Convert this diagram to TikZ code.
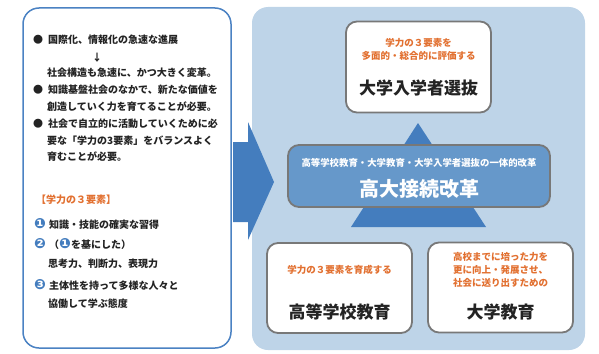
\documentclass[tikz,border=0pt]{standalone}
\usepackage{fontspec}
\setmainfont{Noto Sans CJK JP}
\newfontfamily\dejavu{DejaVu Sans}
\usetikzlibrary{positioning}
\definecolor{lb}{RGB}{75,130,195}
\definecolor{pn}{RGB}{190,212,232}
\definecolor{ar}{RGB}{68,125,190}
\definecolor{cb}{RGB}{102,152,202}
\definecolor{gb}{RGB}{120,120,120}
\definecolor{og}{RGB}{226,112,48}
\definecolor{tx}{RGB}{35,35,35}
\newcommand{\numc}[1]{\raisebox{-0.8pt}{\dejavu\fontsize{14}{12}\selectfont\textcolor{ar}{#1}}}
\newcommand{\bul}[1]{\makebox[15pt][l]{#1}}

\begin{document}
\begin{tikzpicture}[x=1pt,y=-1pt,
    txt/.style={anchor=west,inner sep=0pt,text=tx,font=\bfseries\fontsize{10}{12}\selectfont},
    box/.style={draw=gb,line width=1.8pt,fill=white,rounded corners=11pt,minimum width=145pt,minimum height=90pt},
    sub/.style={text=og,align=center,font=\bfseries\fontsize{9.5}{13}\selectfont},
    ttl/.style={text=tx,font=\bfseries\fontsize{17}{20}\selectfont},
]
\useasboundingbox (0,0) rectangle (599,353);

% Left panel
\node[draw=lb,line width=1.5pt,fill=white,rounded corners=16pt,minimum width=208pt,minimum height=340pt] (left) at (127,178) {};
\node[txt] (l1) at (33,40) {\bul{●}国際化、情報化の急速な進展};
\node[txt,anchor=center] (l2) at (97,58) {↓};
\node[txt] (l3) at (47,73) {社会構造も急速に、かつ大きく変革。};
\node[txt] (l4) at (33,90) {\bul{●}知識基盤社会のなかで、新たな価値を};
\node[txt] (l5) at (47,107) {創造していく力を育てることが必要。};
\node[txt] (l6) at (33,124) {\bul{●}社会で自立的に活動していくために必};
\node[txt] (l7) at (47,141) {要な「学力の3要素」をバランスよく};
\node[txt] (l8) at (47,157) {育むことが必要。};

% Three elements
\node[txt,text=og] (e0) at (36,200) {【学力の３要素】};
\node[txt] (e1) at (34,224) {\bul{\numc{❶}}知識・技能の確実な習得};
\node[txt] (e2) at (34,244) {\bul{\numc{❷}}（\numc{❶}を基にした）};
\node[txt] (e3) at (48,264) {思考力、判断力、表現力};
\node[txt] (e4) at (34,285) {\bul{\numc{❸}}主体性を持って多様な人々と};
\node[txt] (e5) at (48,304) {協働して学ぶ態度};

% Right panel
\node[fill=pn,rounded corners=16pt,minimum width=333pt,minimum height=343pt] (right) at (418.5,178.5) {};
\fill[ar] (233,142) -- (248,142) -- (248,122) -- (274,182) -- (248,240) -- (248,222) -- (233,222) -- cycle;
\fill[ar] (418,123) -- (486,227) -- (351,227) -- cycle;

% University admission
\node[box,minimum height=91pt] (adm) at (418.5,67) {};
\node[sub] (admsub) at (418.5,49) {学力の３要素を\\多面的・総合的に評価する};
\node[ttl] (admttl) at (418.5,88) {大学入学者選抜};

% Reform
\node[box,fill=cb,minimum width=262pt,minimum height=62pt] (ref) at (419,176) {};
\node[text=white,font=\bfseries\fontsize{9.4}{11}\selectfont] (refsub) at (419,163) {高等学校教育・大学教育・大学入学者選抜の一体的改革};
\node[text=white,font=\bfseries\fontsize{20}{22}\selectfont] (refttl) at (419,189) {高大接続改革};

% High school
\node[box] (hs) at (339.5,288) {};
\node[sub] (hssub) at (339.5,270) {学力の３要素を育成する};
\node[ttl] (hsttl) at (339.5,312) {高等学校教育};

% University
\node[box] (uni) at (500.5,287.5) {};
\node[sub] (unisub) at (500.5,270) {高校までに培った力を\\更に向上・発展させ、\\社会に送り出すための};
\node[ttl] (unittl) at (500.5,312) {大学教育};
\end{tikzpicture}
\end{document}
